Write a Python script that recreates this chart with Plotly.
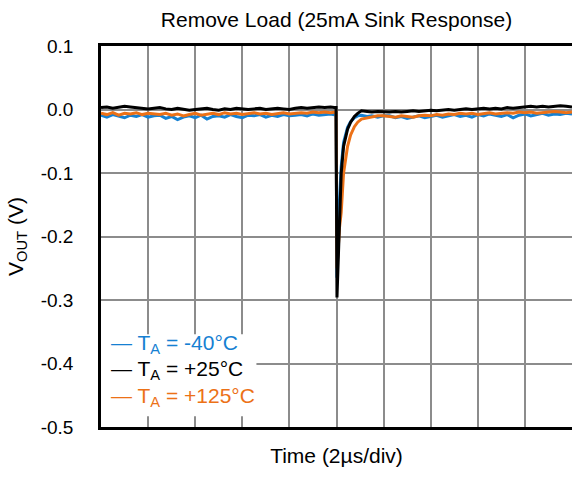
import plotly.graph_objects as go

# Time axis in microseconds (2 us/div, 10 divisions); load step removed at t = 10 us
t_pre = [i * 0.25 for i in range(40)]
t_step = [9.9, 9.98, 10.02, 10.06, 10.13, 10.2, 10.3, 10.47, 10.6, 10.76,
          10.9, 11.06, 11.3, 11.5, 11.75, 12.0]
t_post = [12.25 + i * 0.25 for i in range(32)]
time_us = t_pre + t_step + t_post

# VOUT deviation (V) at TA = -40 C
vout_m40 = [
    -0.009, -0.012, -0.008, -0.010, -0.013, -0.009, -0.011, -0.008, -0.012, -0.010,
    -0.009, -0.014, -0.011, -0.016, -0.012, -0.010, -0.013, -0.009, -0.015, -0.011,
    -0.010, -0.012, -0.008, -0.011, -0.013, -0.009, -0.010, -0.008, -0.012, -0.009,
    -0.011, -0.008, -0.010, -0.009, -0.008, -0.010, -0.007, -0.009, -0.008, -0.007,
    -0.008, -0.007, -0.265, -0.215, -0.140, -0.090, -0.052, -0.028, -0.019, -0.013,
    -0.010, -0.009, -0.011, -0.010, -0.012, -0.010,
    -0.010, -0.013, -0.011, -0.014, -0.012, -0.010, -0.013, -0.011, -0.009, -0.012,
    -0.010, -0.008, -0.011, -0.009, -0.012, -0.008, -0.010, -0.007, -0.009, -0.011,
    -0.008, -0.013, -0.009, -0.007, -0.010, -0.008, -0.006, -0.009, -0.007, -0.008,
    -0.006, -0.007,
]

# VOUT deviation (V) at TA = +25 C
vout_p25 = [
    0.003, 0.004, 0.002, 0.003, 0.005, 0.004, 0.003, 0.002, 0.001, 0.002,
    0.003, 0.001, 0.000, 0.002, 0.001, -0.001, 0.000, 0.001, 0.002, 0.000,
    -0.001, 0.001, 0.000, 0.002, 0.001, 0.000, 0.001, 0.002, 0.000, 0.001,
    0.002, 0.001, 0.000, 0.002, 0.003, 0.002, 0.003, 0.004, 0.003, 0.004,
    0.003, 0.003, -0.296, -0.250, -0.162, -0.100, -0.058, -0.031, -0.020, -0.011,
    -0.006, -0.002, -0.003, -0.004, -0.003, -0.004,
    -0.004, -0.003, -0.004, -0.003, -0.002, -0.003, -0.002, -0.001, -0.002, -0.001,
    0.000, -0.001, 0.000, 0.001, 0.000, 0.001, 0.002, 0.001, 0.002, 0.001,
    0.003, 0.002, 0.003, 0.004, 0.005, 0.004, 0.005, 0.004, 0.005, 0.006,
    0.005, 0.004,
]

# VOUT deviation (V) at TA = +125 C
vout_p125 = [
    -0.006, -0.008, -0.005, -0.009, -0.006, -0.007, -0.005, -0.008, -0.006, -0.007,
    -0.008, -0.006, -0.009, -0.007, -0.010, -0.008, -0.006, -0.009, -0.007, -0.006,
    -0.008, -0.005, -0.007, -0.006, -0.008, -0.006, -0.005, -0.007, -0.006, -0.008,
    -0.006, -0.005, -0.007, -0.006, -0.005, -0.006, -0.004, -0.005, -0.004, -0.005,
    -0.004, -0.004, -0.250, -0.220, -0.185, -0.162, -0.100, -0.058, -0.040, -0.027,
    -0.020, -0.015, -0.013, -0.011, -0.010, -0.010,
    -0.011, -0.012, -0.010, -0.011, -0.012, -0.010, -0.009, -0.010, -0.008, -0.009,
    -0.007, -0.008, -0.006, -0.007, -0.006, -0.008, -0.006, -0.005, -0.007, -0.006,
    -0.005, -0.006, -0.004, -0.005, -0.004, -0.006, -0.005, -0.004, -0.003, -0.004,
    -0.005, -0.004,
]

y_ticks = [0.1, 0.0, -0.1, -0.2, -0.3, -0.4, -0.5]
y_tick_text = ["0.1", "0.0", "-0.1", "-0.2", "-0.3", "-0.4", "-0.5"]

BLUE = "#1580d2"
ORANGE = "#ec7117"
BLACK = "#000000"

series = [
    ("T<sub>A</sub> = -40°C", vout_m40, BLUE),
    ("T<sub>A</sub> = +125°C", vout_p125, ORANGE),
    ("T<sub>A</sub> = +25°C", vout_p25, BLACK),
]

FONT = "Liberation Sans, Arial, sans-serif"

fig = go.Figure()
for name, vals, color in series:
    fig.add_trace(go.Scatter(
        x=time_us, y=vals, mode="lines", name=name,
        line=dict(color=color, width=3), showlegend=False,
    ))

# White panel behind the legend text
fig.add_shape(type="rect", xref="x", yref="y", x0=0, x1=6.6, y0=-0.483, y1=-0.354,
              fillcolor="white", line=dict(width=0), layer="between")

legend_rows = [
    ("— T<sub>A</sub> = -40°C", BLUE, -0.370),
    ("— T<sub>A</sub> = +25°C", BLACK, -0.411),
    ("— T<sub>A</sub> = +125°C", ORANGE, -0.452),
]
for text, color, yv in legend_rows:
    fig.add_annotation(text=text, xref="x", yref="y", x=0.34, y=yv,
                       xanchor="left", yanchor="middle", showarrow=False,
                       font=dict(family=FONT, size=21, color=color))

fig.update_layout(
    width=572, height=477,
    margin=dict(l=101, r=0, t=46, b=50),
    paper_bgcolor="white", plot_bgcolor="white",
    font=dict(family=FONT, size=20, color="#000000"),
    title=dict(text="Remove Load (25mA Sink Response)", x=0.5, xref="paper",
               xanchor="center", y=0.958, yanchor="middle",
               font=dict(family=FONT, size=21, color="#000000")),
)
fig.update_xaxes(
    range=[0, 20], dtick=2, showticklabels=False, ticks="",
    showgrid=True, gridcolor="#8c8c8c", gridwidth=1.5,
    showline=True, linecolor="#000000", linewidth=2.5, mirror=True,
    zeroline=False,
    title=dict(text="Time (2µs/div)", font=dict(family=FONT, size=21), standoff=20),
)
fig.update_yaxes(
    range=[-0.5, 0.1], tickvals=y_ticks, ticktext=y_tick_text,
    ticks="", ticklabelstandoff=21, tickfont=dict(family=FONT, size=19),
    showgrid=True, gridcolor="#8c8c8c", gridwidth=1.5,
    showline=True, linecolor="#000000", linewidth=2.5,
    zeroline=False,
    title=dict(text="V<sub>OUT</sub> (V)", font=dict(family=FONT, size=21), standoff=12),
)

fig.write_html("out.html")
